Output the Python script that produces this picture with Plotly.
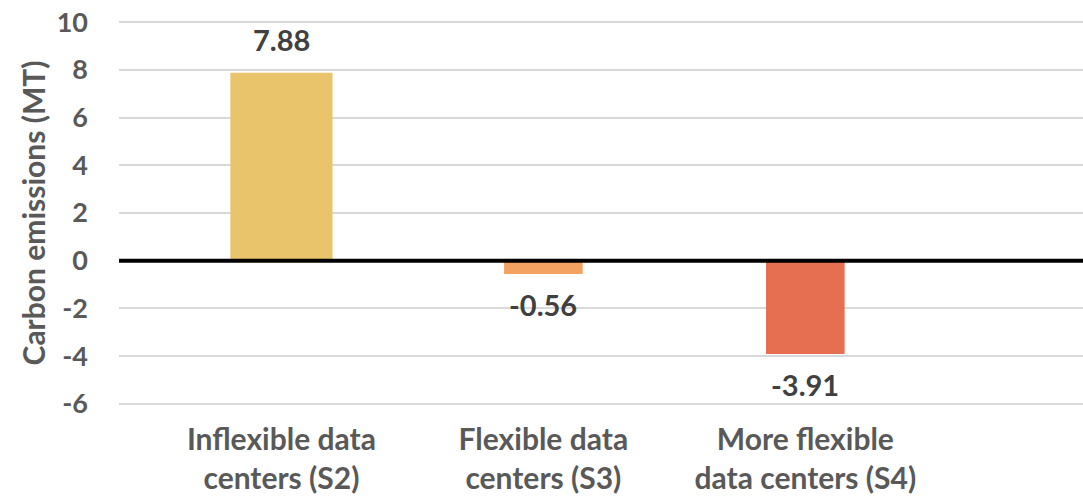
import plotly.graph_objects as go

# Scenario categories and their carbon emissions (MT)
categories = [
    "Inflexible data<br>centers (S2)",
    "Flexible data<br>centers (S3)",
    "More flexible<br>data centers (S4)",
]
emissions = [7.88, -0.56, -3.91]
bar_colors = ["#E9C46A", "#F4A261", "#E76F51"]
bar_widths = [0.39, 0.30, 0.30]
y_ticks = [-6, -4, -2, 0, 2, 4, 6, 8, 10]
y_tick_labels = [str(v) for v in y_ticks]  # plain hyphen for negatives

FONT = "Lato"
GREY = "#595959"

fig = go.Figure(
    go.Bar(
        x=categories,
        y=emissions,
        width=bar_widths,
        marker=dict(color=bar_colors, line=dict(width=0)),
        showlegend=False,
    )
)

# value labels placed just beyond the end of each bar
for cat, val in zip(categories, emissions):
    fig.add_annotation(
        x=cat,
        y=val,
        text=f"{val:.2f}",
        showarrow=False,
        yanchor="bottom" if val >= 0 else "top",
        yshift=14 if val >= 0 else -11,
        font=dict(family=FONT, size=29, color="#404040", weight="bold"),
    )

fig.update_layout(
    width=1083,
    height=500,
    margin=dict(l=119, r=0, t=21, b=95),
    paper_bgcolor="white",
    plot_bgcolor="white",
    font=dict(family=FONT, color=GREY),
    xaxis=dict(
        type="category",
        range=[-0.62, 3.06],
        showgrid=False,
        showline=False,
        ticks="",
        tickfont=dict(family=FONT, size=30, color=GREY, weight="bold"),
        ticklabelstandoff=14,
    ),
    yaxis=dict(
        range=[-6.05, 10.05],
        tickvals=y_ticks,
        ticktext=y_tick_labels,
        showgrid=True,
        gridcolor="#D9D9D9",
        gridwidth=2,
        zeroline=False,
        showline=False,
        ticks="",
        tickfont=dict(family=FONT, size=27, color=GREY, weight="bold"),
        ticklabelstandoff=30,
        title=dict(
            text="Carbon emissions (MT)",
            font=dict(family=FONT, size=30, color=GREY, weight="bold"),
            standoff=2,
        ),
    ),
    shapes=[
        dict(
            type="line",
            xref="paper",
            yref="y",
            x0=0,
            x1=1,
            y0=0,
            y1=0,
            line=dict(color="black", width=4),
            layer="above",
        )
    ],
)

fig.write_html("out.html")
